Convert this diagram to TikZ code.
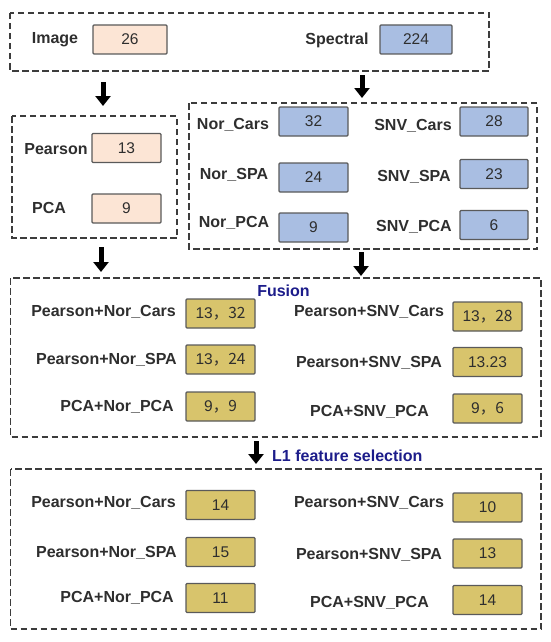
\documentclass[tikz,border=0pt]{standalone}
\usepackage{fontspec}
\setmainfont{Liberation Sans}
\newfontfamily\cjk{Noto Sans CJK SC}
\usetikzlibrary{arrows.meta}
\definecolor{peach}{HTML}{FCE5D5}
\definecolor{bluefill}{HTML}{A9BEE2}
\definecolor{goldfill}{HTML}{D8C46C}
\definecolor{boxline}{HTML}{5A5A5A}
\definecolor{txt}{HTML}{2E2E2E}
\definecolor{navy}{HTML}{1C1C8A}
\definecolor{dashcol}{HTML}{3C3C3C}
\tikzset{
  valbox/.style={draw=boxline, line width=1.1pt, rounded corners=1pt, minimum width=69pt, minimum height=29pt, inner sep=0pt, text=txt, font=\fontsize{15.5}{18}\selectfont},
  pbox/.style={valbox, fill=peach},
  bbox/.style={valbox, fill=bluefill},
  gbox/.style={valbox, fill=goldfill},
  lab/.style={text=txt, font=\fontsize{16}{19}\selectfont\bfseries, inner sep=0pt},
  title/.style={text=navy, font=\fontsize{16}{19}\selectfont\bfseries, inner sep=0pt},
  group/.style={draw=dashcol, line width=1.4pt, dash pattern=on 6.5pt off 3.5pt},
  bigarrow/.style={line width=5pt, -{Triangle[width=15pt,length=10pt]}, black}
}
\begin{document}
\begin{tikzpicture}[x=1pt,y=-1pt]
\useasboundingbox (0,0) rectangle (550,642);
% ---------- top group
\draw[group] (10,13) rectangle (489,71);
\node[lab] (limage) at (55,40) {Image};
\node[pbox, minimum width=74pt] (bimage) at (130,39.5) {26};
\node[lab] (lspec) at (337,40) {Spectral};
\node[bbox, minimum width=72pt] (bspec) at (416,39.5) {224};
% arrows 1,2
\coordinate (a1s) at (103,82); \coordinate (a1e) at (103,106);
\coordinate (a2s) at (362,75); \coordinate (a2e) at (362,98);
\draw[bigarrow] (a1s) -- (a1e);
\draw[bigarrow] (a2s) -- (a2e);
% ---------- left middle group
\draw[group] (12,116) rectangle (177,238);
\node[lab] (lpear) at (56,149) {Pearson};
\node[pbox] (bpear) at (126.5,148) {13};
\node[lab] (lpca) at (49,208) {PCA};
\node[pbox] (bpca) at (126.5,208.5) {9};
% ---------- right middle group
\draw[group] (189,103) rectangle (537,249);
\node[lab] (lnc) at (233,125) {Nor\_Cars};
\node[bbox] (bnc) at (313.5,121.5) {32};
\node[lab] (lns) at (234,175) {Nor\_SPA};
\node[bbox] (bns) at (313.5,177.5) {24};
\node[lab] (lnp) at (234,223) {Nor\_PCA};
\node[bbox] (bnp) at (313.5,227.5) {9};
\node[lab] (lsc) at (413,126) {SNV\_Cars};
\node[bbox, minimum width=68pt] (bsc) at (494,121.5) {28};
\node[lab] (lss) at (414,177) {SNV\_SPA};
\node[bbox, minimum width=68pt] (bss) at (494,174) {23};
\node[lab] (lsp) at (414,227) {SNV\_PCA};
\node[bbox, minimum width=68pt] (bsp) at (494,225) {6};
% arrows 3,4
\coordinate (a3s) at (101,247); \coordinate (a3e) at (101,272);
\coordinate (a4s) at (361,252); \coordinate (a4e) at (361,276);
\draw[bigarrow] (a3s) -- (a3e);
\draw[bigarrow] (a4s) -- (a4e);
% ---------- fusion group
\draw[group] (10.5,278) rectangle (541,437);
\node[title] (tfusion) at (283.5,291) {Fusion};
\node[lab, anchor=east] (f1l) at (176,312) {Pearson+Nor\_Cars};
\node[gbox] (f1b) at (220.5,313.5) {13\cjk{，}32};
\node[lab, anchor=east] (f2l) at (177,360) {Pearson+Nor\_SPA};
\node[gbox] (f2b) at (220.5,359.5) {13\cjk{，}24};
\node[lab, anchor=east] (f3l) at (174,407) {PCA+Nor\_PCA};
\node[gbox] (f3b) at (220.5,406.5) {9\cjk{，}9};
\node[lab] (f4l) at (369,312) {Pearson+SNV\_Cars};
\node[gbox] (f4b) at (487.5,316.5) {13\cjk{，}28};
\node[lab] (f5l) at (369,363) {Pearson+SNV\_SPA};
\node[gbox] (f5b) at (487.5,362) {13.23};
\node[lab] (f6l) at (369.5,412) {PCA+SNV\_PCA};
\node[gbox] (f6b) at (487.5,408.5) {9\cjk{，}6};
% arrow 5
\coordinate (a5s) at (256,441); \coordinate (a5e) at (256,464);
\draw[bigarrow] (a5s) -- (a5e);
\node[title, anchor=west] (tl1) at (272,456) {L1 feature selection};
% ---------- L1 group
\draw[group] (10.5,469) rectangle (541,629);
\node[lab, anchor=east] (s1l) at (176,503) {Pearson+Nor\_Cars};
\node[gbox] (s1b) at (220.5,505) {14};
\node[lab, anchor=east] (s2l) at (177,553) {Pearson+Nor\_SPA};
\node[gbox] (s2b) at (220.5,552) {15};
\node[lab, anchor=east] (s3l) at (174,598) {PCA+Nor\_PCA};
\node[gbox] (s3b) at (220.5,598) {11};
\node[lab] (s4l) at (369,503) {Pearson+SNV\_Cars};
\node[gbox] (s4b) at (487.5,507.5) {10};
\node[lab] (s5l) at (369,555) {Pearson+SNV\_SPA};
\node[gbox] (s5b) at (487.5,553.5) {13};
\node[lab] (s6l) at (369.5,603) {PCA+SNV\_PCA};
\node[gbox] (s6b) at (487.5,600) {14};
\end{tikzpicture}
\end{document}
